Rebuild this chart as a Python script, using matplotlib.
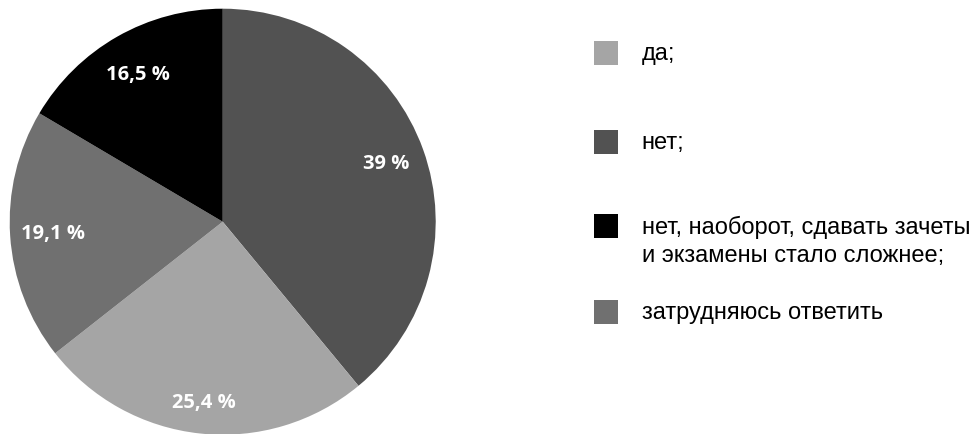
import matplotlib
matplotlib.use("Agg")
import matplotlib.pyplot as plt
from matplotlib.patches import Rectangle
import numpy as np

# Data (pie order, clockwise from top)
pie_labels = ["нет;", "да;", "затрудняюсь ответить",
              "нет, наоборот, сдавать зачеты\nи экзамены стало сложнее;"]
pie_values = [39.0, 25.4, 19.1, 16.5]
pie_texts = ["39 %", "25,4 %", "19,1 %", "16,5 %"]
pie_colors = ["#525252", "#a5a5a5", "#707070", "#000000"]

# Legend order
legend_order = [1, 0, 3, 2]

W, H = 977, 435
fig = plt.figure(figsize=(W / 100, H / 100), dpi=100)
fig.patch.set_facecolor("white")

cx, cy, R = 222.7, 222.7, 213.0
ax = fig.add_axes([(cx - R) / W, (H - cy - R) / H, 2 * R / W, 2 * R / H])
wedges, _ = ax.pie(pie_values, colors=pie_colors, startangle=90,
                   counterclock=False, radius=1.0,
                   wedgeprops=dict(linewidth=0))
ax.set_xlim(-1, 1)
ax.set_ylim(-1, 1)
ax.set_aspect("equal")
ax.axis("off")

label_dist = [0.815, 0.85, 0.80, 0.80]
for w, t, d in zip(wedges, pie_texts, label_dist):
    ang = np.deg2rad((w.theta1 + w.theta2) / 2)
    ax.text(d * np.cos(ang), d * np.sin(ang), t, ha="center", va="center",
            color="white", fontsize=14.5, fontweight="bold",
            family="Open Sans")

# Legend drawn manually
legend_y = [54, 143, 227, 313]
sq = 24
for yk, idx in zip(legend_y, legend_order):
    fig.add_artist(Rectangle(((594) / W, (H - yk - sq / 2) / H), sq / W, sq / H,
                             transform=fig.transFigure, color=pie_colors[idx],
                             linewidth=0))
    fig.text(641.5 / W, (H - yk + 11) / H, pie_labels[idx], ha="left",
             va="top", fontsize=17, family="Liberation Sans",
             color="#000000", linespacing=1.33)

fig.savefig("out.png", dpi=100, facecolor="white")
